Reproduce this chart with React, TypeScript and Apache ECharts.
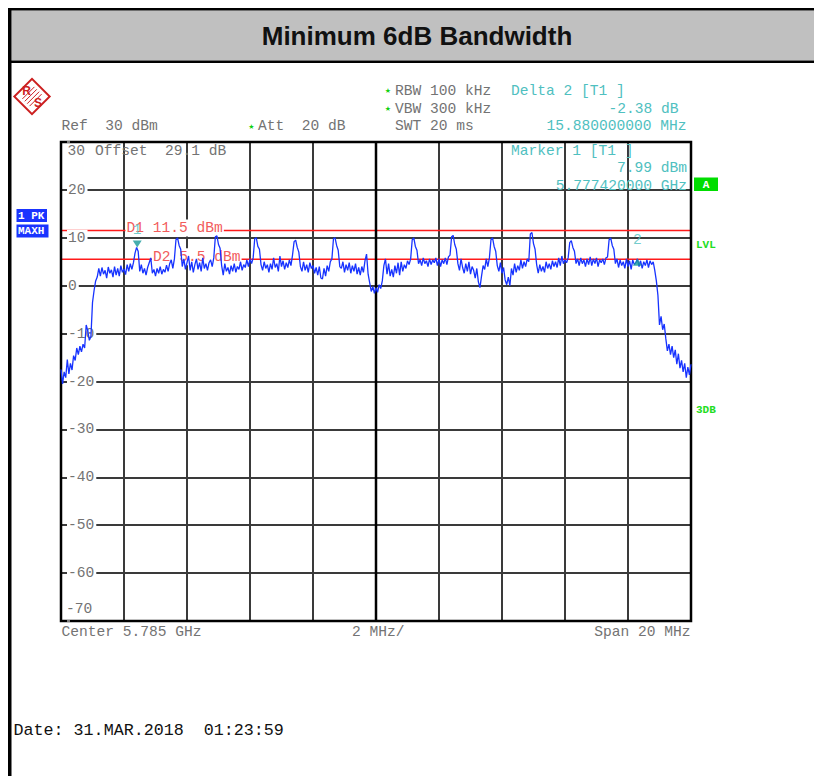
import React, { useEffect, useRef } from "react";
import * as echarts from "echarts";

// ---------- instrument settings ----------
const TITLE = "Minimum 6dB Bandwidth";
const CENTER_GHZ = 5.785;
const SPAN_MHZ = 20;
const DIV_MHZ = 2;
const STEP_MHZ = 0.05;
const REF_DBM = 30;
const OFFSET_DB = 29.1;
const ATT_DB = 20;
const RBW_KHZ = 100;
const VBW_KHZ = 300;
const SWT_MS = 20;
const DATE_TEXT = "Date: 31.MAR.2018  01:23:59";

const yRange = [-70, 30];
const yStep = 10;

// trace (max hold), one value every STEP_MHZ from the left edge of the span
const traceDbm = [
  -17.5, -20.5, -18.0, -19.2, -15.4, -18.4, -16.2, -17.6, -14.6, -15.6,
  -13.0, -14.4, -12.6, -13.8, -12.2, -13.0, -8.2, -9.4, -11.4, -10.6,
  -3.5, -1.0, 1.0, 1.8, 3.6, 2.0, 3.8, 2.4, 3.2, 1.6,
  3.9, 2.6, 3.3, 1.8, 4.0, 2.2, 3.6, 2.0, 4.2, 2.8,
  3.5, 2.3, 4.4, 3.0, 4.6, 3.4, 4.8, 6.8, 7.99, 7.2,
  3.0, 4.4, 2.6, 3.6, 2.2, 3.8, 4.8, 5.8, 2.6, 3.4,
  2.0, 3.6, 2.6, 4.0, 2.4, 3.4, 2.8, 4.3, 3.0, 4.6,
  5.4, 3.6, 5.6, 9.6, 10.0, 8.4, 7.6, 4.0, 5.6, 3.4,
  4.8, 6.2, 3.2, 5.0, 2.8, 4.4, 5.6, 3.4, 4.8, 3.0,
  5.8, 3.6, 4.6, 3.2, 4.8, 5.4, 4.0, 5.8, 10.2, 10.4,
  8.6, 7.8, 4.2, 2.2, 4.6, 3.0, 3.8, 2.4, 4.2, 3.0,
  4.6, 2.8, 4.0, 3.4, 5.0, 3.2, 4.4, 3.8, 5.4, 4.0,
  5.6, 4.6, 5.8, 9.8, 10.0, 8.2, 7.6, 4.4, 3.2, 5.0,
  3.6, 4.4, 2.8, 4.6, 3.4, 5.8, 3.8, 4.6, 3.0, 6.2,
  4.0, 5.2, 3.4, 4.8, 3.8, 5.4, 4.2, 6.4, 9.2, 9.5,
  8.0, 7.0, 4.0, 3.0, 5.0, 3.2, 4.4, 2.8, 4.8, 3.6,
  4.2, 2.6, 3.8, 2.2, 4.0, 1.6, 1.4, 3.6, 2.0, 4.2,
  3.0, 5.0, 5.6, 9.8, 10.0, 8.4, 7.4, 4.0, 3.6, 5.0,
  2.8, 4.4, 3.2, 4.8, 2.6, 4.2, 3.0, 4.6, 2.4, 3.8,
  2.2, 4.0, 2.8, 5.2, 6.6, 2.4, 0.6, -1.2, -0.2, -1.6,
  -0.4, -1.4, 0.2, -0.6, 1.0, 4.2, 5.6, 2.4, 4.6, 2.0,
  3.4, 1.8, 4.2, 2.6, 4.8, 2.2, 5.0, 3.0, 4.4, 3.6,
  5.2, 4.4, 5.6, 9.6, 10.0, 8.2, 7.4, 4.6, 5.4, 4.2,
  5.8, 4.6, 5.2, 4.0, 5.6, 4.4, 5.4, 4.8, 5.8, 4.2,
  5.6, 4.0, 5.4, 4.6, 5.8, 4.4, 6.0, 6.4, 10.2, 10.5,
  8.6, 7.6, 4.6, 3.2, 5.6, 3.8, 2.6, 4.6, 3.0, 5.0,
  2.4, 4.0, 3.2, 1.6, 3.6, 0.8, -0.4, 2.0, 4.2, 3.4,
  5.6, 4.0, 5.8, 9.6, 10.0, 8.2, 7.2, 4.2, 3.0, 4.8,
  2.6, 3.8, 1.2, 0.2, 1.8, 0.0, 3.6, 2.2, 4.6, 2.8,
  4.2, 3.2, 5.4, 3.6, 5.0, 4.0, 5.6, 5.0, 10.8, 11.1,
  8.8, 7.6, 4.4, 2.6, 4.4, 3.0, 4.0, 2.8, 5.0, 3.6,
  4.6, 3.4, 5.2, 4.0, 5.0, 3.8, 5.8, 4.2, 6.2, 4.6,
  5.4, 4.8, 5.8, 9.0, 9.4, 8.0, 7.2, 4.6, 5.6, 4.2,
  5.8, 4.6, 5.4, 4.0, 5.6, 4.4, 6.0, 4.2, 5.6, 4.6,
  5.8, 4.0, 5.4, 4.8, 5.6, 4.4, 5.8, 6.0, 9.6, 10.0,
  8.4, 7.6, 4.6, 5.6, 3.8, 5.4, 4.2, 5.0, 3.6, 5.6,
  4.0, 5.2, 3.4, 5.4, 4.4, 4.8, 5.61, 4.0, 5.2, 3.6,
  5.0, 4.2, 5.4, 3.8, 5.2, 4.4, 5.0, 3.2, 1.0, -2.0,
  -8.2, -6.4, -9.2, -8.0, -11.0, -13.6, -12.2, -14.4, -12.6, -15.0,
  -13.4, -16.4, -14.2, -17.2, -15.6, -18.0, -16.2, -19.2, -17.0, -18.6,
  -16.4,
];

// display lines
const lineNames = ["D1", "D2"];
const lineLevelsDbm = [11.5, 5.5];

// markers
const markerNames = ["1", "2"];
const marker1FreqGhz = 5.77742;
const marker1LevelDbm = 7.99;
const delta2FreqMhz = 15.88;
const delta2LevelDb = -2.38;

const MONO = '"Liberation Mono", "DejaVu Sans Mono", "Courier New", monospace';
const GRAY = "#737373";
const TEAL = "#4fc0c0";
const MARK = "#169a9a";

function txt(
  text: string,
  x: number,
  y: number,
  fill: string,
  o: { size?: number; weight?: string; align?: string; family?: string; z?: number; bg?: string } = {}
) {
  const style: any = {
    text,
    fill,
    fontFamily: o.family ?? MONO,
    fontSize: o.size ?? 14.6,
    fontWeight: o.weight ?? "normal",
    textAlign: o.align ?? "left",
    textVerticalAlign: "middle",
  };
  if (o.bg) {
    style.backgroundColor = o.bg;
    style.padding = [1, 1, 1, 1];
  }
  return { type: "text", x, y, z: o.z ?? 5, silent: true, style };
}

export default function App() {
  const ref = useRef<HTMLDivElement>(null);

  useEffect(() => {
    const el = ref.current!;
    const chart = echarts.init(el, null, { renderer: "svg", width: 814, height: 776 });

    const startMhz = CENTER_GHZ * 1000 - SPAN_MHZ / 2;
    const m1Offset = marker1FreqGhz * 1000 - startMhz;
    const markerOffsets = [m1Offset, m1Offset + delta2FreqMhz];
    const markerLevels = [marker1LevelDbm, marker1LevelDbm + delta2LevelDb];

    chart.setOption({
      animation: false,
      backgroundColor: "#ffffff",
      grid: { left: 61, top: 142, width: 630, height: 479, containLabel: false },
      xAxis: [
        {
          type: "value",
          min: 0,
          max: SPAN_MHZ,
          interval: DIV_MHZ,
          axisLine: { show: false },
          axisTick: { show: false },
          axisLabel: { show: false },
          splitLine: { show: true, lineStyle: { color: "#3a3a3a", width: 2 } },
        },
      ],
      yAxis: [
        {
          type: "value",
          min: yRange[0],
          max: yRange[1],
          interval: yStep,
          axisLine: { show: false },
          axisTick: { show: false },
          axisLabel: { show: false },
          splitLine: { show: true, lineStyle: { color: "#3a3a3a", width: 2 } },
        },
        {
          type: "value",
          min: yRange[0],
          max: yRange[1],
          interval: yStep,
          position: "left",
          z: 1,
          axisLine: { show: false },
          axisTick: { show: false },
          splitLine: { show: false },
          axisLabel: {
            show: true,
            inside: true,
            margin: 6,
            color: GRAY,
            fontFamily: MONO,
            fontSize: 14.6,
            backgroundColor: "#ffffff",
            padding: [1, 2, 0, 1],
            formatter: (v: number) => (v === yRange[0] || v === yRange[1] ? "" : String(v)),
          },
        },
      ],
      series: [
        {
          type: "line",
          name: "Trace 1",
          xAxisIndex: 0,
          yAxisIndex: 0,
          data: traceDbm.map((v, i) => [i * STEP_MHZ, v]),
          symbol: "none",
          showSymbol: false,
          silent: true,
          z: 2,
          lineStyle: { color: "#1733ff", width: 1.3 },
        },
        {
          type: "scatter",
          name: "Markers",
          xAxisIndex: 0,
          yAxisIndex: 0,
          silent: true,
          z: 4,
          symbol: "triangle",
          symbolSize: [9, 7],
          itemStyle: { color: MARK },
          data: markerNames.map((n, i) => ({
            name: n,
            value: [markerOffsets[i], markerLevels[i]],
            symbolRotate: i === 0 ? 180 : 0,
            symbolOffset: i === 0 ? [0, -3.5] : [0, 3.5],
            label: {
              show: true,
              position: "inside",
              offset: i === 0 ? [0, -13.5] : [0, -22],
              formatter: n,
              color: TEAL,
              fontFamily: MONO,
              fontSize: 14.6,
            },
          })),
        },
      ],
    });

    const xPix = (v: number) => chart.convertToPixel({ xAxisIndex: 0 }, v) as number;
    const yPix = (v: number) => chart.convertToPixel({ yAxisIndex: 0 }, v) as number;
    const x0 = xPix(0);
    const x1 = xPix(SPAN_MHZ);
    const xc = xPix(SPAN_MHZ / 2);
    const yTop = yPix(yRange[1]);
    const yBot = yPix(yRange[0]);

    const els: any[] = [];

    // page frame and title band
    els.push({ type: "rect", shape: { x: 11.5, y: 10.5, width: 802.5, height: 50 }, style: { fill: "#c0c0c0" }, z: 5, silent: true });
    els.push({ type: "rect", shape: { x: 8, y: 8, width: 806, height: 2.5 }, style: { fill: "#000" }, z: 6, silent: true });
    els.push({ type: "rect", shape: { x: 8, y: 60.5, width: 806, height: 2.5 }, style: { fill: "#000" }, z: 6, silent: true });
    els.push({ type: "rect", shape: { x: 8, y: 8, width: 3.5, height: 768 }, style: { fill: "#000" }, z: 6, silent: true });
    els.push(
      txt(TITLE, 417, 35.5, "#111", {
        size: 26,
        weight: "bold",
        align: "center",
        family: '"Liberation Sans", Arial, sans-serif',
      })
    );

    // R&S logo
    const logoRed = "#cc2020";
    els.push({
      type: "group",
      x: 32,
      y: 96.5,
      silent: true,
      children: [
        {
          type: "rect",
          shape: { x: -12.5, y: -12.5, width: 25, height: 25 },
          rotation: Math.PI / 4,
          style: { fill: "#fff", stroke: logoRed, lineWidth: 2 },
          z: 6,
        },
        ...[-3, -1, 1, 3].map((k) => ({
          type: "line",
          shape: { x1: -6 + k * 1.2, y1: 6 + k * 1.2, x2: 6 + k * 1.2, y2: -6 + k * 1.2 },
          style: { stroke: logoRed, lineWidth: 1 },
          z: 7,
        })),
        {
          type: "text",
          x: -5.5,
          y: -5.5,
          z: 8,
          style: { text: "R", fill: logoRed, fontFamily: '"Liberation Sans", sans-serif', fontSize: 12, fontWeight: "bold", textAlign: "center", textVerticalAlign: "middle" },
        },
        {
          type: "text",
          x: 6,
          y: 6,
          z: 8,
          style: { text: "S", fill: logoRed, fontFamily: '"Liberation Sans", sans-serif', fontSize: 12, fontWeight: "bold", textAlign: "center", textVerticalAlign: "middle" },
        },
      ],
    });

    // header annotations
    const star = (x: number, y: number) =>
      txt("★", x, y, "#10d010", { size: 7, align: "center", family: '"DejaVu Sans", sans-serif' });
    els.push(star(388, 91));
    els.push(txt(`RBW ${RBW_KHZ} kHz`, 395, 90.5, GRAY));
    els.push(txt("Delta 2 [T1 ]", 511, 90.5, TEAL));
    els.push(star(388, 109));
    els.push(txt(`VBW ${VBW_KHZ} kHz`, 395, 108.5, GRAY));
    els.push(txt(`${delta2LevelDb.toFixed(2)} dB`, 678.5, 108.5, TEAL, { align: "right" }));
    els.push(txt(`Ref  ${REF_DBM} dBm`, 61.5, 126, GRAY));
    els.push(star(251.5, 126.5));
    els.push(txt(`Att  ${ATT_DB} dB`, 258, 126, GRAY));
    els.push(txt(`SWT ${SWT_MS} ms`, 395, 126, GRAY));
    els.push(txt(`${delta2FreqMhz.toFixed(9)} MHz`, 686.5, 126, TEAL, { align: "right" }));

    // inside plot annotations
    els.push(txt(String(yRange[1]), x0 + 6.5, yTop + 8.5, GRAY, { z: 1 }));
    els.push(txt(`Offset  ${OFFSET_DB} dB`, 95, yTop + 8.5, GRAY, { z: 1 }));
    els.push(txt("Marker 1 [T1 ]", 511, yTop + 9, TEAL, { z: 1 }));
    els.push(txt(`${marker1LevelDbm.toFixed(2)} dBm`, 687, yTop + 26, TEAL, { z: 1, align: "right" }));
    els.push(txt(`${marker1FreqGhz.toFixed(9)} GHz`, 687, yTop + 44, TEAL, { z: 1, align: "right" }));
    els.push(txt(String(yRange[0]), x0 + 5, yBot - 12.5, GRAY, { z: 1 }));

    // display lines
    lineLevelsDbm.forEach((lv, i) => {
      const y = yPix(lv);
      els.push({
        type: "line",
        shape: { x1: x0, y1: y, x2: x1, y2: y },
        style: { stroke: "#ff1a1a", lineWidth: 1.5 },
        z: 1,
        silent: true,
      });
      els.push(
        txt(`${lineNames[i]} ${lv} dBm`, x0 + (i === 0 ? 64.5 : 91), y - 2.5, "#f25c5c", { z: 1.5, bg: "#ffffff" })
      );
    });

    // centre line and frame
    els.push({
      type: "line",
      shape: { x1: xc, y1: yTop, x2: xc, y2: yBot },
      style: { stroke: "#000", lineWidth: 2.5 },
      z: 1,
      silent: true,
    });
    els.push({
      type: "rect",
      shape: { x: x0, y: yTop, width: x1 - x0, height: yBot - yTop },
      style: { fill: "none", stroke: "#000", lineWidth: 2.5 },
      z: 1,
      silent: true,
    });

    // side boxes
    const blue = "#1a34ff";
    els.push({ type: "rect", shape: { x: 16.5, y: 209, width: 30.5, height: 13 }, style: { fill: blue }, z: 5, silent: true });
    els.push(txt("1 PK", 18, 215.5, "#fff", { size: 11, weight: "bold" }));
    els.push({ type: "rect", shape: { x: 16.5, y: 224.5, width: 32, height: 13 }, style: { fill: blue }, z: 5, silent: true });
    els.push(txt("MAXH", 18, 231, "#fff", { size: 11, weight: "bold" }));
    els.push({ type: "rect", shape: { x: 694, y: 177.5, width: 24, height: 13.5 }, style: { fill: "#00dd00" }, z: 5, silent: true });
    els.push(txt("A", 706, 184.5, "#fff", { size: 11, weight: "bold", align: "center" }));
    els.push(txt("LVL", 696, 244.5, "#22dd22", { size: 11, weight: "bold" }));
    els.push(txt("3DB", 696, 410, "#22dd22", { size: 11, weight: "bold" }));

    // bottom annotations
    els.push(txt(`Center ${CENTER_GHZ} GHz`, 61.5, 632, GRAY));
    els.push(txt(`${DIV_MHZ} MHz/`, 352, 632, GRAY));
    els.push(txt(`Span ${SPAN_MHZ} MHz`, 690.5, 632, GRAY, { align: "right" }));
    els.push(txt(DATE_TEXT, 13.5, 730, "#111", { size: 16.7 }));

    chart.setOption({ graphic: { elements: els } });

    return () => chart.dispose();
  }, []);

  return (
    <div
      ref={ref}
      style={{ position: "absolute", left: 0, top: 0, width: 814, height: 776 }}
    />
  );
}
